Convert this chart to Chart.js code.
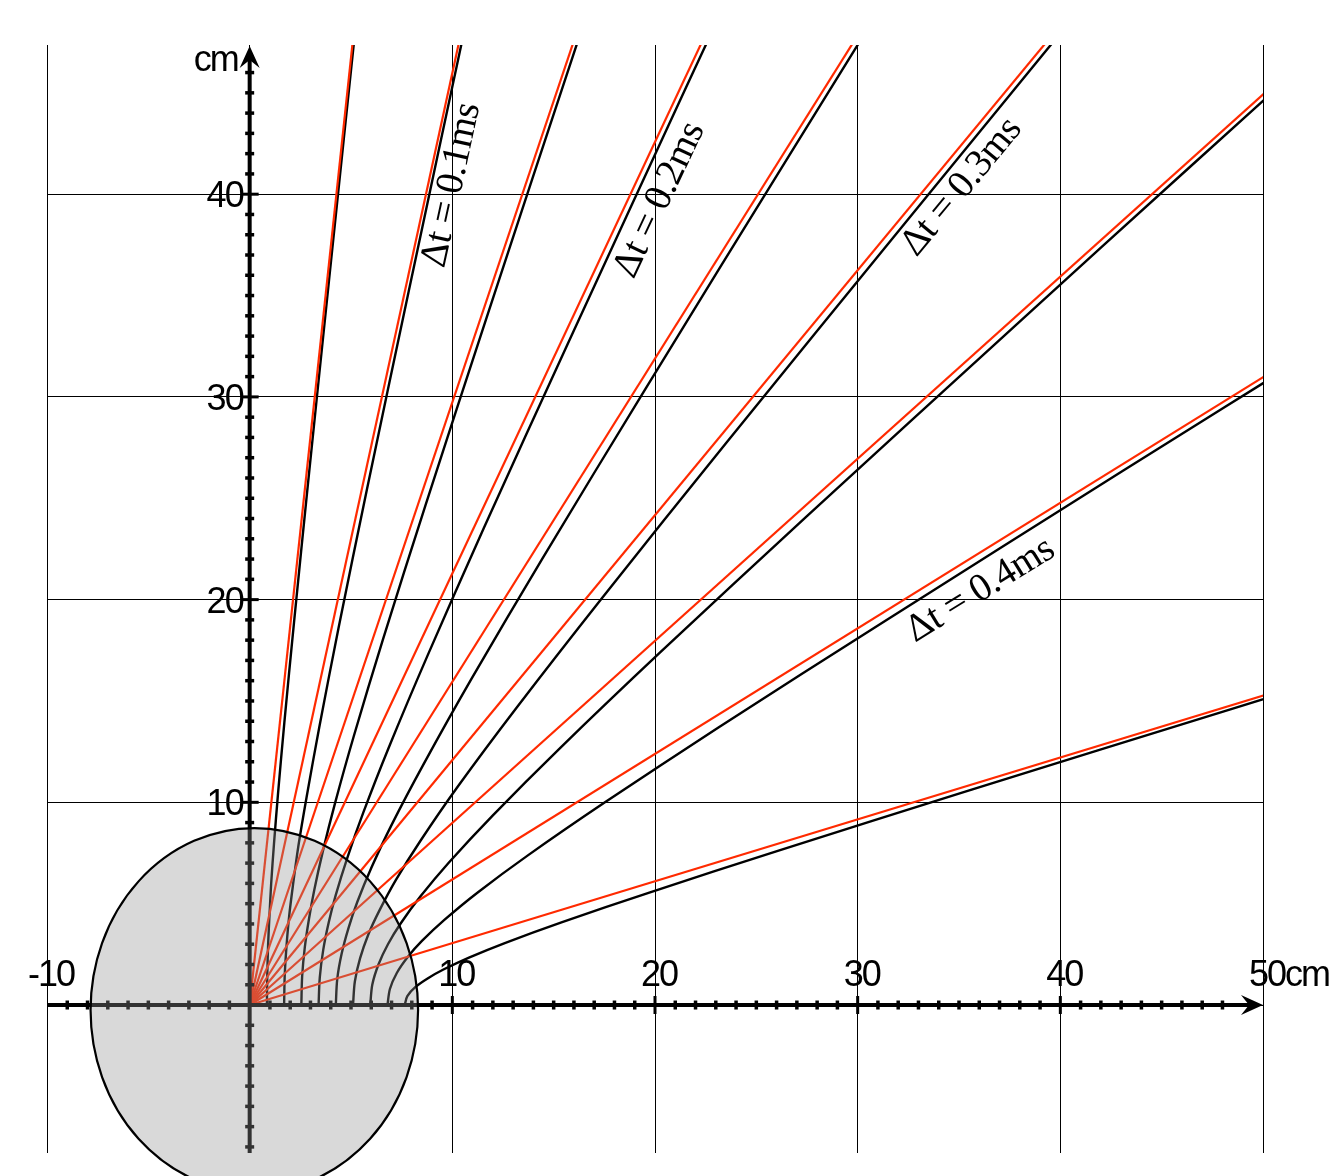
<!DOCTYPE html>
<html>
<head>
<meta charset="utf-8">
<script src="https://cdn.jsdelivr.net/npm/chart.js@4.4.1/dist/chart.umd.min.js"></script>
<style>
  html, body { margin: 0; padding: 0; background: #fff; }
  #wrap { width: 1335px; height: 1176px; }
</style>
</head>
<body>
<div id="wrap"><canvas id="fanChart" width="1335" height="1176"></canvas></div>
<script>
// Axis ranges and tick labels (cm)
const xTickValues = [-10, 10, 20, 30, 40, 50];
const xTickLabels = ['-10', '10', '20', '30', '40', '50'];
const yTickValues = [10, 20, 30, 40];
const yTickLabels = ['10', '20', '30', '40'];

// Straight rays from the origin (red): end points, past the plot edge
const rayEndX = [7.98, 15.94, 23.91, 31.89, 39.85, 47.82, 55.79, 63.76, 71.73];
const rayEndY = [74.58, 73.29, 71.09, 67.89, 63.54, 57.78, 50.12, 39.49, 21.90];

// Curved paths (black)
const pathX1 = [0.85, 0.87, 0.91, 0.98, 1.06, 1.20, 1.40, 1.71, 2.19, 2.89, 3.92, 5.38, 6.65, 7.49];
const pathY1 = [0, 1.49, 2.98, 4.47, 5.97, 7.95, 10.44, 13.92, 18.89, 25.85, 35.80, 49.72, 61.65, 69.60];
const pathX2 = [1.70, 1.73, 1.82, 1.95, 2.13, 2.40, 2.81, 3.43, 4.38, 5.78, 7.84, 10.76, 13.28, 14.97];
const pathY2 = [0, 1.47, 2.93, 4.40, 5.86, 7.82, 10.26, 13.68, 18.57, 25.41, 35.18, 48.86, 60.59, 68.40];
const pathX3 = [2.55, 2.59, 2.72, 2.93, 3.19, 3.61, 4.21, 5.14, 6.57, 8.67, 11.76, 16.14, 19.93, 22.46];
const pathY3 = [0, 1.42, 2.84, 4.27, 5.69, 7.58, 9.95, 13.27, 18.01, 24.64, 34.12, 47.39, 58.76, 66.35];
const pathX4 = [3.40, 3.46, 3.63, 3.90, 4.25, 4.81, 5.61, 6.85, 8.76, 11.56, 15.68, 21.53, 26.58, 29.95];
const pathY4 = [0, 1.36, 2.72, 4.07, 5.43, 7.24, 9.50, 12.67, 17.20, 23.54, 32.59, 45.26, 56.12, 63.36];
const pathX5 = [4.25, 4.32, 4.54, 4.88, 5.31, 6.01, 7.01, 8.57, 10.95, 14.45, 19.59, 26.90, 33.21, 37.43];
const pathY5 = [0, 1.27, 2.54, 3.81, 5.08, 6.78, 8.90, 11.86, 16.10, 22.03, 30.50, 42.36, 52.53, 59.30];
const pathX6 = [5.10, 5.19, 5.45, 5.85, 6.38, 7.21, 8.42, 10.28, 13.15, 17.35, 23.51, 32.29, 39.86, 44.92];
const pathY6 = [0, 1.16, 2.31, 3.47, 4.62, 6.16, 8.09, 10.79, 14.64, 20.03, 27.73, 38.52, 47.77, 53.93];
const pathX7 = [5.95, 6.05, 6.36, 6.83, 7.44, 8.42, 9.82, 12.00, 15.34, 20.24, 27.43, 37.67, 46.50, 52.41];
const pathY7 = [0, 1.00, 2.01, 3.01, 4.01, 5.35, 7.02, 9.36, 12.70, 17.38, 24.06, 33.42, 41.44, 46.78];
const pathX8 = [6.80, 6.92, 7.26, 7.80, 8.50, 9.62, 11.22, 13.71, 17.53, 23.13, 31.35, 43.05, 53.15, 59.90];
const pathY8 = [0, 0.79, 1.58, 2.37, 3.16, 4.21, 5.53, 7.37, 10.00, 13.69, 18.95, 26.33, 32.64, 36.86];
const pathX9 = [7.65, 7.78, 8.17, 8.78, 9.56, 10.82, 12.62, 15.42, 19.72, 26.02, 35.27, 48.43, 59.79, 67.38];
const pathY9 = [0, 0.44, 0.88, 1.31, 1.75, 2.34, 3.07, 4.09, 5.55, 7.59, 10.51, 14.60, 18.10, 20.44];

const pathsX = [pathX1, pathX2, pathX3, pathX4, pathX5, pathX6, pathX7, pathX8, pathX9];
const pathsY = [pathY1, pathY2, pathY3, pathY4, pathY5, pathY6, pathY7, pathY8, pathY9];

// Δt annotations: text, centre (cm) and the ray they follow
const dtLabels = ['\u0394t = 0.1ms', '\u0394t = 0.2ms', '\u0394t = 0.3ms', '\u0394t = 0.4ms'];
const dtLabelX = [9.97, 20.23, 35.13, 36.06];
const dtLabelY = [40.45, 39.71, 40.35, 20.47];
const dtLabelRay = [1, 3, 5, 7];

// Grey disc round the origin (cm)
const discCenter = [0.23, -0.25];
const discRadius = [8.08, 8.98];

// Build datasets
const datasets = [];
rayEndX.forEach((ex, i) => {
    datasets.push({
        data: [{x: 0, y: 0}, {x: ex, y: rayEndY[i]}],
        borderColor: '#ff2a00',
        borderWidth: 2.2,
        showLine: true,
        pointRadius: 0
    });
});
pathsX.forEach((px, i) => {
    datasets.push({
        data: px.map((v, j) => ({x: v, y: pathsY[i][j]})),
        borderColor: '#000',
        borderWidth: 2.4,
        showLine: true,
        tension: 0.3,
        pointRadius: 0
    });
});

function drawArrow(ctx, tx, ty, dx, dy) {
    const len = 22, half = 10, notch = 8;
    const nx = -dy, ny = dx;
    ctx.beginPath();
    ctx.moveTo(tx, ty);
    ctx.lineTo(tx - len * dx + half * nx, ty - len * dy + half * ny);
    ctx.lineTo(tx - (len - notch) * dx, ty - (len - notch) * dy);
    ctx.lineTo(tx - len * dx - half * nx, ty - len * dy - half * ny);
    ctx.closePath();
    ctx.fill();
}

// Axes, disc and all text drawn over the datasets
const axesAndDisc = {
    id: 'axesAndDisc',
    afterDatasetsDraw(chart) {
        const {ctx, scales: {x, y}} = chart;
        const x0 = x.getPixelForValue(0);
        const y0 = y.getPixelForValue(0);
        ctx.save();
        ctx.strokeStyle = '#000';
        ctx.fillStyle = '#000';

        // axis lines
        ctx.lineWidth = 4;
        ctx.beginPath();
        ctx.moveTo(x.left, y0);
        ctx.lineTo(x.right - 12, y0);
        ctx.moveTo(x0, y.bottom);
        ctx.lineTo(x0, y.top + 12);
        ctx.stroke();
        drawArrow(ctx, x.right, y0, 1, 0);
        drawArrow(ctx, x0, y.top + 1, 0, -1);

        // tick marks every 1 cm, longer every 10 cm
        for (let v = -9; v <= 48; v++) {
            if (v === 0) continue;
            const p = x.getPixelForValue(v);
            const major = v % 10 === 0;
            ctx.lineWidth = major ? 3 : 3.5;
            const h = major ? 9 : 4.5;
            ctx.beginPath();
            ctx.moveTo(p, y0 - h);
            ctx.lineTo(p, y0 + h);
            ctx.stroke();
        }
        for (let v = -7; v <= 46; v++) {
            if (v === 0) continue;
            const p = y.getPixelForValue(v);
            const major = v % 10 === 0;
            ctx.lineWidth = major ? 3 : 3.5;
            const h = major ? 9 : 4.5;
            ctx.beginPath();
            ctx.moveTo(x0 - h, p);
            ctx.lineTo(x0 + h, p);
            ctx.stroke();
        }

        // translucent disc
        const cx = x.getPixelForValue(discCenter[0]);
        const cy = y.getPixelForValue(discCenter[1]);
        const rx = x.getPixelForValue(discRadius[0]) - x.getPixelForValue(0);
        const ry = y.getPixelForValue(0) - y.getPixelForValue(discRadius[1]);
        ctx.beginPath();
        ctx.ellipse(cx, cy, rx, ry, 0, 0, Math.PI * 2);
        ctx.fillStyle = 'rgba(146,146,146,0.35)';
        ctx.fill();
        ctx.lineWidth = 2.2;
        ctx.stroke();

        // tick labels
        ctx.fillStyle = '#000';
        ctx.font = '36px "Liberation Sans", Arial, sans-serif';
        ctx.letterSpacing = '-2px';
        ctx.textBaseline = 'alphabetic';
        ctx.textAlign = 'center';
        xTickValues.forEach((v, i) => {
            ctx.fillText(xTickLabels[i], x.getPixelForValue(v) + 4, y0 - 19);
        });
        ctx.textAlign = 'left';
        ctx.fillText('cm', x.right + 22, y0 - 19);
        ctx.textAlign = 'right';
        yTickValues.forEach((v, i) => {
            ctx.fillText(yTickLabels[i], x0 - 7, y.getPixelForValue(v) + 13);
        });
        ctx.fillText('cm', x0 - 12, y.top + 26);

        // Δt annotations along the rays
        ctx.letterSpacing = '-0.5px';
        ctx.font = '39px "Liberation Serif", "Times New Roman", serif';
        ctx.textAlign = 'center';
        ctx.textBaseline = 'middle';
        dtLabels.forEach((t, i) => {
            const r = dtLabelRay[i];
            const ang = Math.atan2(y0 - y.getPixelForValue(rayEndY[r]), x.getPixelForValue(rayEndX[r]) - x0);
            ctx.save();
            ctx.translate(x.getPixelForValue(dtLabelX[i]), y.getPixelForValue(dtLabelY[i]));
            ctx.rotate(-ang);
            ctx.fillText(t, 0, 0);
            ctx.restore();
        });
        ctx.restore();
    }
};

const fanConfig = {
    type: 'scatter',
    data: { datasets: datasets },
    options: {
        responsive: false,
        animation: false,
        devicePixelRatio: 1,
        events: [],
        layout: { padding: { left: 47, top: 45, right: 72, bottom: 23 } },
        plugins: {
            legend: { display: false },
            tooltip: { enabled: false }
        },
        scales: {
            x: {
                type: 'linear',
                min: -10,
                max: 50,
                ticks: { display: false, stepSize: 10, includeBounds: false },
                grid: { color: '#000', lineWidth: 1, drawTicks: false },
                border: { display: false }
            },
            y: {
                type: 'linear',
                min: -7.3,
                max: 47.36,
                ticks: { display: false, stepSize: 10, includeBounds: false },
                grid: { color: '#000', lineWidth: 1, drawTicks: false },
                border: { display: false }
            }
        }
    },
    plugins: [axesAndDisc]
};

const fanChart = new Chart(document.getElementById('fanChart'), fanConfig);
</script>
</body>
</html>
